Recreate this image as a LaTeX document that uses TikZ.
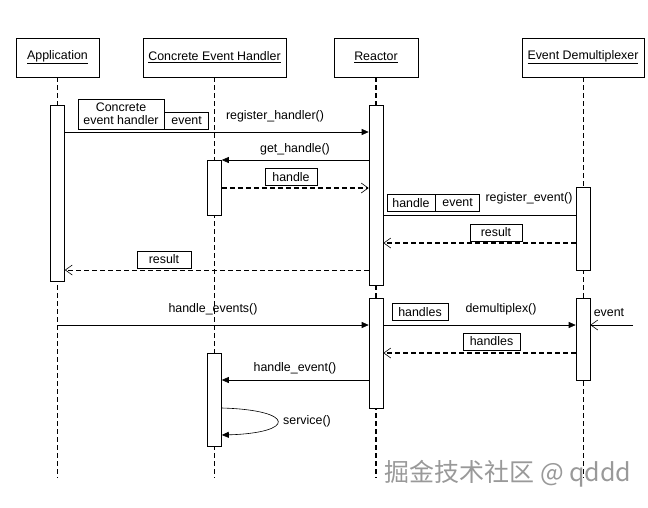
\documentclass[tikz,border=0pt]{standalone}
\usepackage{fontspec}
\setmainfont{Liberation Sans}
\newfontfamily\cjkfont{Noto Sans CJK SC}
\usetikzlibrary{positioning,arrows.meta}
\tikzset{obj/.style={draw,minimum height=39pt,inner sep=2pt,line width=0.6pt},
	 act/.style={draw,fill=white,minimum width=14pt,inner sep=0pt,line width=0.6pt},
	 lbl/.style={draw,fill=white,inner sep=1.5pt,minimum height=17pt,line width=0.6pt},
	 life/.style={dash pattern=on 5pt off 3pt,line width=0.6pt},
	 lifeb/.style={dash pattern=on 5pt off 3pt,line width=1.5pt},
	 call/.style={-{Triangle[length=7pt,width=6pt]},line width=0.6pt},
	 async/.style={-{Straight Barb[length=7pt,width=10pt,line width=0.6pt]},line width=0.6pt},
	 ret/.style={async,dash pattern=on 5pt off 3pt},
	 retb/.style={ret,line width=1.5pt}
	 }

\begin{document}
\begin{tikzpicture}[x=1pt,y=-1pt,font=\fontsize{12.4}{13}\selectfont] % reactor sequence
	\useasboundingbox (0,0) rectangle (648,507);
	\node[obj,minimum width=83pt] (app) at (57.5,57.5) {\underline{Application}};
	\node[obj,minimum width=143pt] (ceh) at (214.5,57.5) {\underline{Concrete Event Handler}};
	\node[obj,minimum width=84pt] (re) at (376,57.5) {\underline{Reactor}};
	\node[obj,minimum width=122pt] (dm) at (583,57.5) {\underline{Event Demultiplexer}};
	\coordinate (bot) at (0,478);
	\draw[life] (app.south) -- (app.south |- bot);
	\draw[lifeb] (ceh.south) -- (ceh.south |- bot);
	\draw[lifeb] (re.south) -- (re.south |- bot);
	\draw[life] (dm.south) -- (dm.south |- bot);
	% activations
	\node[act,minimum height=176pt] (app1) at (57.5,193) {};
	\node[act,minimum height=55pt] (ceh1) at (214.5,187.5) {};
	\node[act,minimum height=93pt] (ceh2) at (214.5,399.5) {};
	\node[act,minimum height=180pt] (re1) at (376,195) {};
	\node[act,minimum height=110pt] (re2) at (376,353) {};
	\node[act,minimum height=83pt] (dm1) at (583,228.5) {};
	\node[act,minimum height=82pt] (dm2) at (583,339) {};
	% message heights
	\coordinate (y1) at (0,132); \coordinate (y2) at (0,160);
	\coordinate (y3) at (0,188); \coordinate (y4) at (0,215);
	\coordinate (y5) at (0,243); \coordinate (y6) at (0,270);
	\coordinate (y7) at (0,325); \coordinate (y8) at (0,353);
	\coordinate (y9) at (0,380);
	\coordinate (s1) at (0,408); \coordinate (s2) at (0,435);
	\coordinate (evsrc) at (633,325);
	\draw[call] (app1.east |- y1) -- (re1.west |- y1);
	\draw[call] (re1.west |- y2) -- (ceh1.east |- y2);
	\draw[retb] (ceh1.east |- y3) -- (re1.west |- y3);
	\draw[line width=0.6pt] (re1.east |- y4) -- (dm1.west |- y4);
	\draw[retb] (dm1.west |- y5) -- (re1.east |- y5);
	\draw[ret] (re1.west |- y6) -- (app1.east |- y6);
	\draw[call] (app.south |- y7) -- (re2.west |- y7);
	\draw[call] (re2.east |- y7) -- (dm2.west |- y7);
	\draw[async] (evsrc) -- (dm2.east |- y7);
	\draw[retb] (dm2.west |- y8) -- (re2.east |- y8);
	\draw[call] (re2.west |- y9) -- (ceh2.east |- y9);
	\draw[call] (ceh2.east |- s1) .. controls (296,410) and (296,433) .. (ceh2.east |- s2);
	% labels
	\node[lbl,align=center,minimum width=86pt,minimum height=30pt] (cehlbl) at (121,114) {Concrete\\event handler};
	\node[lbl,anchor=south west,minimum width=44pt] (evtlbl) at (cehlbl.south east) {event};
	\node (rh) at (275,116) {register\_handler()};
	\node (gh) at (295,149) {get\_handle()};
	\node[lbl,minimum width=52pt] (hlbl) at (291,177) {handle};
	\node[lbl,minimum width=48pt] (hlbl2) at (411,203) {handle};
	\node[lbl,anchor=west,minimum width=44pt] (elbl2) at (hlbl2.east) {event};
	\node (rev) at (529,198) {register\_event()};
	\node[lbl,minimum width=52pt] (res1) at (496,232.5) {result};
	\node[lbl,minimum width=54pt] (res2) at (164,259.5) {result};
	\node (hes) at (213,309) {handle\_events()};
	\node (dmx) at (501,309) {demultiplex()};
	\node[lbl,minimum width=56pt] (hs1) at (420,312) {handles};
	\node (evt) at (609,313) {event};
	\node[lbl,minimum width=57pt] (hs2) at (491.5,341.5) {handles};
	\node (he) at (295,368) {handle\_event()};
	\node (srv) at (307,421) {service()};
	\node[font=\cjkfont\fontsize{25}{27}\selectfont,text=gray!80,anchor=west] (wm) at (381,474) {掘金技术社区 @ qddd};
\end{tikzpicture}
\end{document}
